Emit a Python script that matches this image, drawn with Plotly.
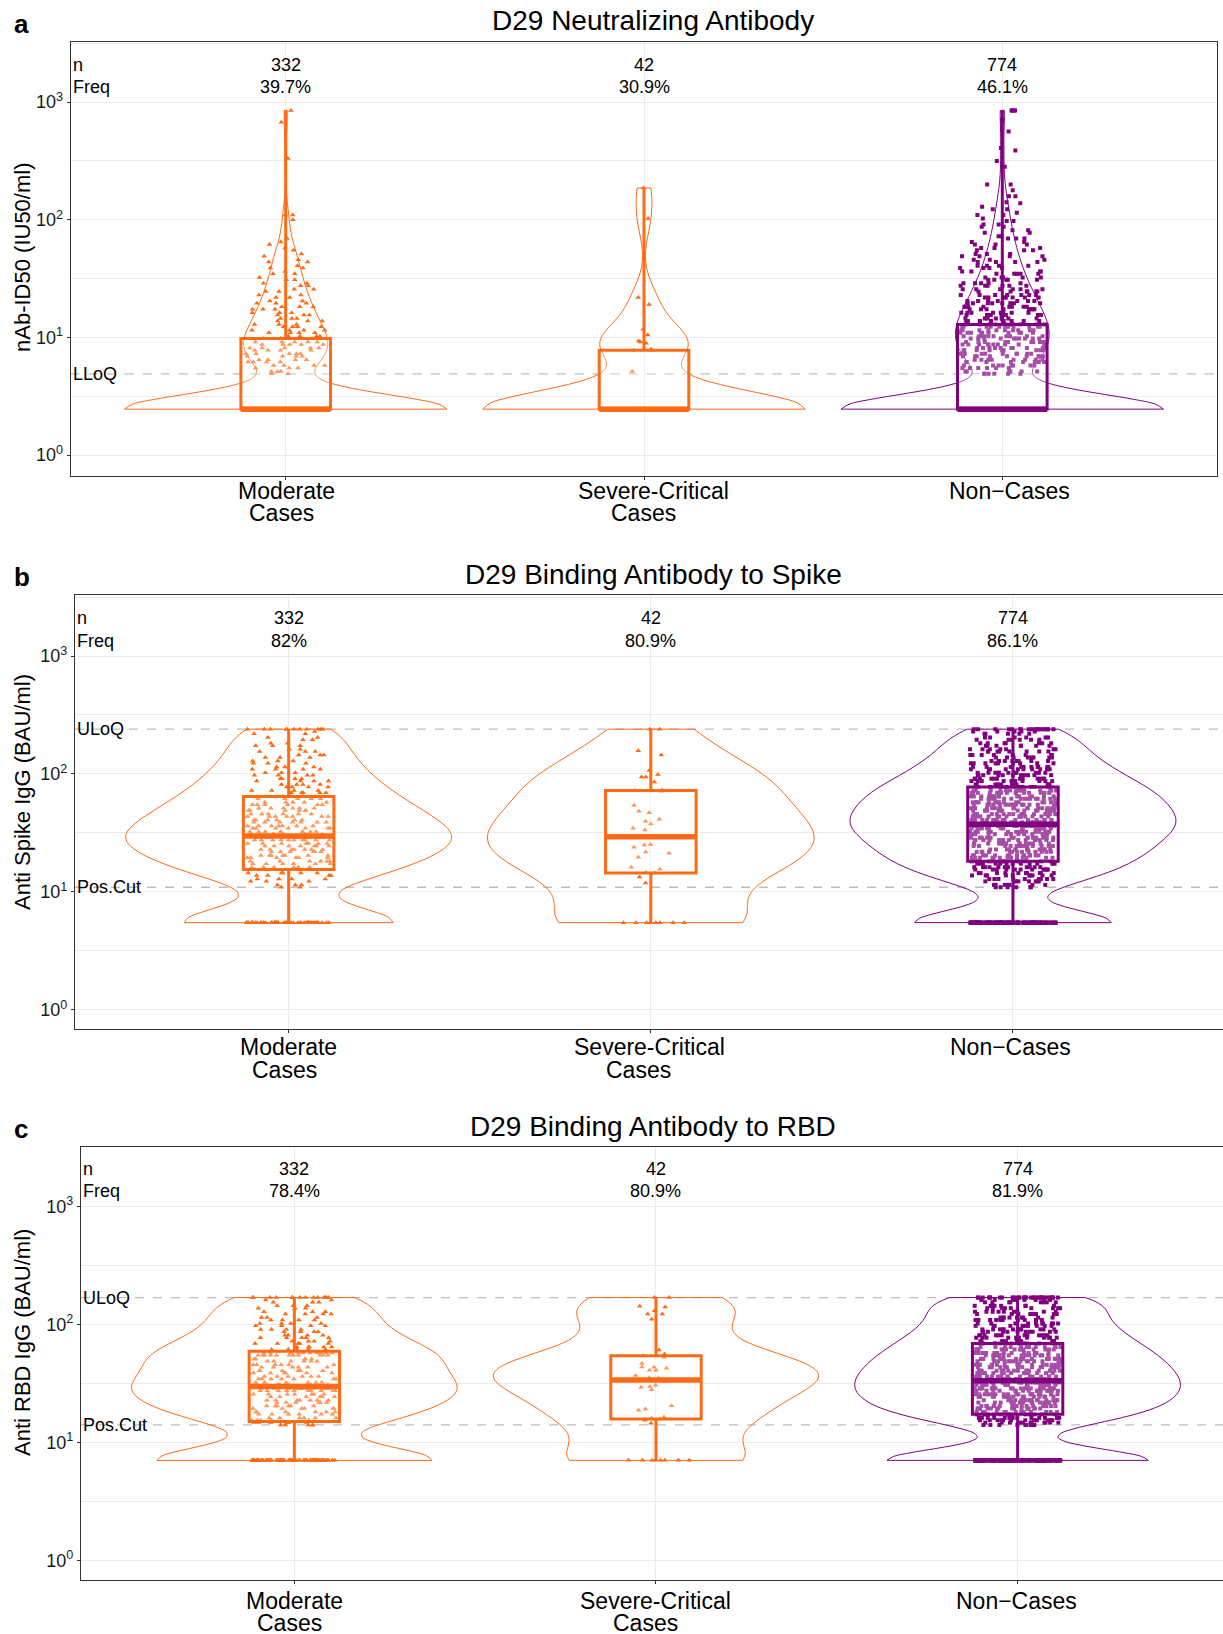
import numpy as np
import plotly.graph_objects as go

W, H = 1223, 1634

CAT_LINES = [["Moderate", "Cases"], ["Severe-Critical", "Cases"], ["Non−Cases"]]
CATS = ["<br>".join(c) for c in CAT_LINES]
CASE_COLOR = "#FF6A14"
NON_COLOR = "#800080"

# ---------------- data (log10 titer levels and counts) ----------------
# Panel a: D29 Neutralizing Antibody (nAb-ID50)
A_N = ["332", "42", "774"]
A_FREQ = ["39.7%", "30.9%", "46.1%"]
A_LLOQ = 0.69
a_mod_lv = [0.39,
            0.69, 0.71, 0.74, 0.76, 0.79, 0.81, 0.84, 0.86, 0.89, 0.91, 0.94, 0.96,
            0.99, 1.01, 1.04, 1.06, 1.09, 1.11, 1.14, 1.16,
            1.19, 1.21, 1.24, 1.26, 1.29, 1.31, 1.34, 1.36,
            1.39, 1.41, 1.44, 1.46, 1.49, 1.51, 1.54, 1.56,
            1.59, 1.61, 1.64, 1.66, 1.69, 1.71, 1.74, 1.76, 1.79, 1.81, 1.84,
            2.00, 2.04, 2.52, 2.83, 2.93]
a_mod_ct = [200,
            2, 3, 3, 4, 4, 4, 4, 5, 4, 5, 5, 5,
            5, 4, 4, 4, 4, 3, 3, 3,
            3, 3, 3, 3, 3, 2, 2, 2,
            2, 2, 2, 2, 2, 1, 2, 1,
            2, 1, 2, 1, 1, 1, 1, 1, 1, 1, 1,
            1, 2, 1, 1, 1]
a_sev_lv = [0.39, 0.71, 0.89, 0.90, 0.95, 0.96, 0.97, 1.02, 1.07, 1.28, 1.34, 2.01, 2.27]
a_sev_ct = [29, 1, 2, 1, 1, 1, 1, 1, 1, 1, 1, 1, 1]
a_non_lv = [0.39,
            0.69, 0.71, 0.74, 0.76, 0.79, 0.81, 0.84, 0.86, 0.89, 0.91, 0.94, 0.96,
            0.99, 1.01, 1.04, 1.06, 1.09, 1.11,
            1.14, 1.16, 1.19, 1.21, 1.24, 1.26, 1.29, 1.31, 1.34, 1.36,
            1.39, 1.41, 1.44, 1.46, 1.49, 1.51, 1.54, 1.56,
            1.59, 1.61, 1.64, 1.66, 1.69, 1.71, 1.74, 1.76,
            1.79, 1.81, 1.84, 1.86, 1.89, 1.91, 1.94, 1.96,
            1.99, 2.01, 2.04, 2.06, 2.09, 2.11, 2.14, 2.15,
            2.20, 2.25, 2.30, 2.45, 2.50, 2.59, 2.61, 2.75, 2.85, 2.93]
a_non_ct = [417,
            6, 7, 7, 8, 8, 8, 9, 9, 9, 10, 10, 10,
            10, 10, 10, 10, 11, 12,
            9, 8, 9, 8, 8, 8, 8, 7, 7, 7,
            6, 6, 6, 5, 5, 5, 5, 4,
            4, 4, 4, 3, 4, 3, 3, 3,
            3, 2, 3, 2, 2, 2, 2, 2,
            2, 1, 2, 1, 2, 1, 1, 1,
            2, 1, 2, 1, 1, 1, 1, 1, 1, 4]

# Panel b: D29 Binding Antibody to Spike
B_N = ["332", "42", "774"]
B_FREQ = ["82%", "80.9%", "86.1%"]
B_ULOQ = 2.38
B_POSCUT = 1.04
b_mod_lv = [0.74,
            1.04, 1.06, 1.09, 1.11, 1.14, 1.16, 1.19,
            1.21, 1.24, 1.26, 1.29, 1.31, 1.34, 1.36, 1.39, 1.41, 1.44, 1.46,
            1.49, 1.51, 1.54, 1.56, 1.59, 1.61, 1.64, 1.66, 1.69, 1.71, 1.74, 1.76, 1.79, 1.81,
            1.84, 1.86, 1.89, 1.91, 1.94, 1.96, 1.99, 2.01, 2.04, 2.06, 2.09, 2.11, 2.14, 2.16,
            2.19, 2.21, 2.24, 2.26, 2.29, 2.31, 2.34, 2.36, 2.38]
b_mod_ct = [60,
            2, 3, 3, 4, 4, 5, 6,
            6, 6, 6, 6, 7, 6, 7, 7, 7, 10, 11,
            7, 7, 7, 7, 7, 6, 7, 6, 6, 6, 6, 5, 5, 5,
            5, 4, 4, 4, 4, 4, 4, 3, 4, 3, 3, 3, 3, 3,
            3, 2, 3, 2, 2, 2, 2, 1, 11]
b_sev_lv = [0.74, 1.076, 1.127, 1.161, 1.167, 1.192, 1.209, 1.294, 1.328, 1.339, 1.378, 1.398, 1.403,
            1.466, 1.47, 1.525, 1.54, 1.576, 1.6, 1.616, 1.672, 1.684, 1.735, 1.853, 1.86, 1.864,
            1.932, 1.975, 1.995, 2.03, 2.16, 2.197, 2.38]
b_sev_ct = [8, 1, 1, 1, 1, 1, 1, 1, 1, 1, 1, 1, 1,
            1, 1, 1, 1, 1, 1, 1, 1, 1, 1, 1, 1, 1,
            1, 2, 1, 1, 1, 1, 2]
b_non_lv = [0.74,
            1.04, 1.06, 1.09, 1.11, 1.14, 1.16, 1.19, 1.21, 1.24, 1.26,
            1.29, 1.31, 1.34, 1.36, 1.39, 1.41, 1.44, 1.46, 1.49, 1.51, 1.54, 1.56,
            1.59, 1.61, 1.64, 1.66, 1.69, 1.71, 1.74, 1.76, 1.79, 1.81, 1.84, 1.86,
            1.89, 1.91, 1.94, 1.96, 1.99, 2.01, 2.04, 2.06, 2.09, 2.11, 2.14, 2.16,
            2.19, 2.21, 2.24, 2.26, 2.29, 2.31, 2.34, 2.36, 2.38]
b_non_ct = [108,
            6, 7, 8, 9, 10, 10, 11, 11, 12, 13,
            13, 14, 14, 14, 14, 15, 15, 15, 15, 15, 19, 19,
            17, 17, 17, 16, 16, 16, 16, 15, 15, 15, 16, 16,
            13, 13, 12, 12, 11, 11, 10, 10, 9, 9, 8, 8,
            8, 7, 7, 7, 6, 6, 5, 5, 18]

# Panel c: D29 Binding Antibody to RBD
C_N = ["332", "42", "774"]
C_FREQ = ["78.4%", "80.9%", "81.9%"]
C_ULOQ = 2.23
C_POSCUT = 1.15
c_mod_lv = [0.85,
            1.15, 1.17, 1.19, 1.21, 1.24, 1.26, 1.29, 1.31, 1.34, 1.36, 1.39, 1.41, 1.44, 1.46,
            1.49, 1.51, 1.54, 1.56, 1.59, 1.61, 1.64, 1.66, 1.69, 1.71, 1.74, 1.76,
            1.79, 1.81, 1.84, 1.86, 1.89, 1.91, 1.94, 1.96, 1.99, 2.01, 2.04, 2.06,
            2.09, 2.11, 2.14, 2.16, 2.19, 2.21, 2.23]
c_mod_ct = [72,
            5, 6, 5, 6, 6, 6, 6, 6, 6, 7, 6, 7, 10, 12,
            7, 6, 7, 6, 6, 6, 6, 6, 6, 5, 11, 11,
            5, 5, 5, 4, 5, 4, 4, 4, 4, 4, 4, 3,
            4, 3, 3, 3, 3, 2, 14]
c_sev_lv = [0.85, 1.164, 1.19, 1.2, 1.207, 1.218, 1.274, 1.285, 1.313, 1.449, 1.47, 1.475, 1.486,
            1.517, 1.545, 1.55, 1.57, 1.613, 1.63, 1.64, 1.641, 1.672, 1.723, 1.737, 1.752, 1.786,
            2.045, 2.09, 2.119, 2.15, 2.157, 2.23]
c_sev_ct = [8, 1, 1, 1, 1, 1, 1, 1, 1, 1, 1, 1, 1,
            1, 1, 1, 1, 2, 1, 1, 1, 1, 1, 1, 1, 1,
            1, 2, 1, 1, 1, 2]
c_non_lv = [0.85,
            1.15, 1.17, 1.19, 1.21, 1.24,
            1.26, 1.29, 1.31, 1.34, 1.36, 1.39, 1.41, 1.44, 1.46, 1.49, 1.51,
            1.54, 1.56, 1.59, 1.61, 1.64, 1.66, 1.69, 1.71, 1.74, 1.76, 1.79, 1.81,
            1.84, 1.86, 1.89, 1.91, 1.94, 1.96, 1.99, 2.01, 2.04, 2.06, 2.09, 2.11,
            2.14, 2.16, 2.19, 2.21, 2.23]
c_non_ct = [140,
            9, 11, 12, 13, 13,
            15, 16, 16, 17, 17, 17, 18, 18, 18, 18, 19,
            18, 17, 17, 17, 17, 16, 16, 16, 16, 15, 14, 14,
            13, 13, 12, 12, 11, 11, 10, 10, 10, 9, 9, 9,
            9, 8, 8, 8, 32]

Y_TICKS = [0, 1, 2, 3]
Y_TICKTEXT = ["10<sup>0</sup>", "10<sup>1</sup>", "10<sup>2</sup>", "10<sup>3</sup>"]
Y_MINOR = [0.5, 1.5, 2.5, 3.5]

FONT = "Liberation Sans, Arial, sans-serif"
BOX_W = 0.25


def nrd0(v):
    v = np.asarray(v, dtype=float)
    sd = v.std(ddof=1)
    q75, q25 = np.percentile(v, [75, 25])
    lo = min(sd, (q75 - q25) / 1.34)
    if lo <= 0:
        lo = sd if sd > 0 else 1.0
    return 0.9 * lo * len(v) ** -0.2


panels = [
    dict(letter="a", title="D29 Neutralizing Antibody", ylabel="nAb-ID50 (IU50/ml)",
         n=A_N, freq=A_FREQ, refs=[("LLoQ", A_LLOQ)],
         data=[(a_mod_lv, a_mod_ct), (a_sev_lv, a_sev_ct), (a_non_lv, a_non_ct)],
         dx=(70.7, 1217.3), dy=(41.7, 475.7), xr=[-0.6, 2.6], yr=[-0.176, 3.514],
         mirror_y=True, letter_y=24, title_y=21, ylab_y=257, xl=(490.6, 513.5),
         xsh=[[1, -4], [9, -1], [7]]),
    dict(letter="b", title="D29 Binding Antibody to Spike", ylabel="Anti Spike IgG (BAU/ml)",
         n=B_N, freq=B_FREQ, refs=[("ULoQ", B_ULOQ), ("Pos.Cut", B_POSCUT)],
         data=[(b_mod_lv, b_mod_ct), (b_sev_lv, b_sev_ct), (b_non_lv, b_non_ct)],
         dx=(75.0, 1223.0), dy=(595.0, 1029.3), xr=[-0.59, 2.58], yr=[-0.164, 3.517],
         mirror_y=False, letter_y=577, title_y=574, ylab_y=792, xl=(1047.0, 1069.5),
         xsh=[[0, -4], [-1, -12], [-2]]),
    dict(letter="c", title="D29 Binding Antibody to RBD", ylabel="Anti RBD IgG (BAU/ml)",
         n=C_N, freq=C_FREQ, refs=[("ULoQ", C_ULOQ), ("Pos.Cut", C_POSCUT)],
         data=[(c_mod_lv, c_mod_ct), (c_sev_lv, c_sev_ct), (c_non_lv, c_non_ct)],
         dx=(81.0, 1223.0), dy=(1147.0, 1580.0), xr=[-0.59, 2.568], yr=[-0.164, 3.506],
         mirror_y=False, letter_y=1129, title_y=1126, ylab_y=1343, xl=(1601.0, 1622.5),
         xsh=[[0, -5], [0, -10], [-1]]),
]

fig = go.Figure()
annotations = []
shapes = []
layout = {}

for i, p in enumerate(panels):
    sfx = "" if i == 0 else str(i + 1)
    xa, ya = "x" + sfx, "y" + sfx
    groups = []
    for g, (lv, ct) in enumerate(p["data"]):
        vals = np.repeat(np.asarray(lv, dtype=float), ct)
        groups.append(vals)

    # violins
    for g, vals in enumerate(groups):
        color = CASE_COLOR if g < 2 else NON_COLOR
        fig.add_trace(go.Violin(
            x=[CATS[g]] * len(vals), y=vals, xaxis=xa, yaxis=ya,
            width=0.9, scalemode="width", spanmode="hard", bandwidth=nrd0(vals),
            line=dict(color=color, width=1), fillcolor="rgba(0,0,0,0)",
            points=False, box_visible=False, meanline_visible=False,
            showlegend=False, hoverinfo="skip"))
    # jittered points
    for g, vals in enumerate(groups):
        color = CASE_COLOR if g < 2 else NON_COLOR
        fig.add_trace(go.Box(
            x=[CATS[g]] * len(vals), y=vals, xaxis=xa, yaxis=ya,
            boxpoints="all", jitter=0.95, pointpos=0, width=BOX_W,
            marker=dict(symbol="triangle-up" if g < 2 else "square",
                        size=5 if g < 2 else 4, color=color, line=dict(width=0)),
            line=dict(width=0, color="rgba(0,0,0,0)"), fillcolor="rgba(0,0,0,0)",
            showlegend=False, hoverinfo="y"))
    # boxes on top
    for g, vals in enumerate(groups):
        color = CASE_COLOR if g < 2 else NON_COLOR
        fig.add_trace(go.Box(
            x=[CATS[g]] * len(vals), y=vals, xaxis=xa, yaxis=ya,
            boxpoints=False, width=BOX_W, whiskerwidth=0,
            line=dict(color=color, width=3), fillcolor="rgba(255,255,255,0.3)",
            showlegend=False, hoverinfo="skip"))
        # emphasised median bar (ggplot draws it thicker than the box outline)
        med = float(np.percentile(vals, 50))
        shapes.append(dict(type="line", xref=xa, yref=ya,
                           x0=g - BOX_W / 2, x1=g + BOX_W / 2, y0=med, y1=med,
                           line=dict(color=color, width=5.5), layer="above"))

    layout["xaxis" + sfx] = dict(
        domain=[p["dx"][0] / W, p["dx"][1] / W], anchor=ya,
        type="category", categoryorder="array", categoryarray=CATS,
        range=p["xr"], showgrid=True, gridcolor="#EBEBEB", gridwidth=1.3,
        ticks="outside", ticklen=3, tickcolor="#333333", showticklabels=False,
        showline=True, linecolor="#333333", linewidth=1.2, mirror=True, zeroline=False,
        fixedrange=True)
    layout["yaxis" + sfx] = dict(
        domain=[1 - p["dy"][1] / H, 1 - p["dy"][0] / H], anchor=xa,
        range=p["yr"], tickmode="array", tickvals=Y_TICKS, ticktext=Y_TICKTEXT,
        showgrid=True, gridcolor="#EBEBEB", gridwidth=1.3,
        minor=dict(tickmode="array", tickvals=Y_MINOR, showgrid=True,
                   gridcolor="#EBEBEB", gridwidth=1.3, ticks=""),
        ticks="outside", ticklen=3, tickcolor="#333333",
        tickfont=dict(size=18, color="#1a1a1a", family=FONT),
        showline=True, linecolor="#333333", linewidth=1.2, mirror=p["mirror_y"],
        zeroline=False, fixedrange=True)

    # category labels (two lines each, tight line spacing)
    for g in range(3):
        for k, line in enumerate(CAT_LINES[g]):
            annotations.append(dict(text=line, xref=xa, yref="paper", x=CATS[g],
                                    y=1 - p["xl"][k] / H, xanchor="center", yanchor="middle",
                                    xshift=p["xsh"][g][k], showarrow=False,
                                    font=dict(size=23, color="#000000", family=FONT)))

    # reference dashed lines + labels
    for lab, lvl in p["refs"]:
        shapes.append(dict(type="line", xref=xa + " domain", yref=ya, x0=0, x1=1, y0=lvl, y1=lvl,
                           line=dict(color="#BDBDBD", width=1.3, dash="dash"), layer="below"))
        annotations.append(dict(text=lab, xref=xa + " domain", yref=ya, x=0, y=lvl,
                                xanchor="left", yanchor="middle", showarrow=False,
                                font=dict(size=18, color="#000000", family=FONT)))
    # n / Freq labels
    annotations.append(dict(text="n", xref=xa + " domain", yref=ya, x=0, y=3.32,
                            xanchor="left", yanchor="middle", showarrow=False,
                            font=dict(size=18, color="#000000", family=FONT)))
    annotations.append(dict(text="Freq", xref=xa + " domain", yref=ya, x=0, y=3.13,
                            xanchor="left", yanchor="middle", showarrow=False,
                            font=dict(size=18, color="#000000", family=FONT)))
    for g in range(3):
        annotations.append(dict(text=p["n"][g], xref=xa, yref=ya, x=CATS[g], y=3.32,
                                xanchor="center", yanchor="middle", showarrow=False,
                                font=dict(size=18, color="#000000", family=FONT)))
        annotations.append(dict(text=p["freq"][g], xref=xa, yref=ya, x=CATS[g], y=3.13,
                                xanchor="center", yanchor="middle", showarrow=False,
                                font=dict(size=18, color="#000000", family=FONT)))
    # title, panel letter, y-axis label
    annotations.append(dict(text=p["title"], xref="paper", yref="paper", x=653 / W,
                            y=1 - p["title_y"] / H, xanchor="center", yanchor="middle",
                            showarrow=False, font=dict(size=28, color="#000000", family=FONT)))
    annotations.append(dict(text="<b>" + p["letter"] + "</b>", xref="paper", yref="paper",
                            x=12 / W, y=1 - p["letter_y"] / H, xanchor="left", yanchor="middle",
                            showarrow=False, font=dict(size=26, color="#000000", family=FONT)))
    annotations.append(dict(text=p["ylabel"], xref="paper", yref="paper", x=22 / W,
                            y=1 - p["ylab_y"] / H, xanchor="center", yanchor="middle",
                            textangle=-90, showarrow=False,
                            font=dict(size=22, color="#000000", family=FONT)))

fig.update_layout(
    width=W, height=H, margin=dict(l=0, r=0, t=0, b=0),
    paper_bgcolor="#FFFFFF", plot_bgcolor="#FFFFFF",
    boxmode="overlay", violinmode="overlay",
    showlegend=False, annotations=annotations, shapes=shapes,
    font=dict(family=FONT, color="#000000"),
    **layout)

fig.write_html("out.html", config={"displayModeBar": False},
               post_script="document.body.style.margin='0px';document.body.style.overflow='hidden';")
